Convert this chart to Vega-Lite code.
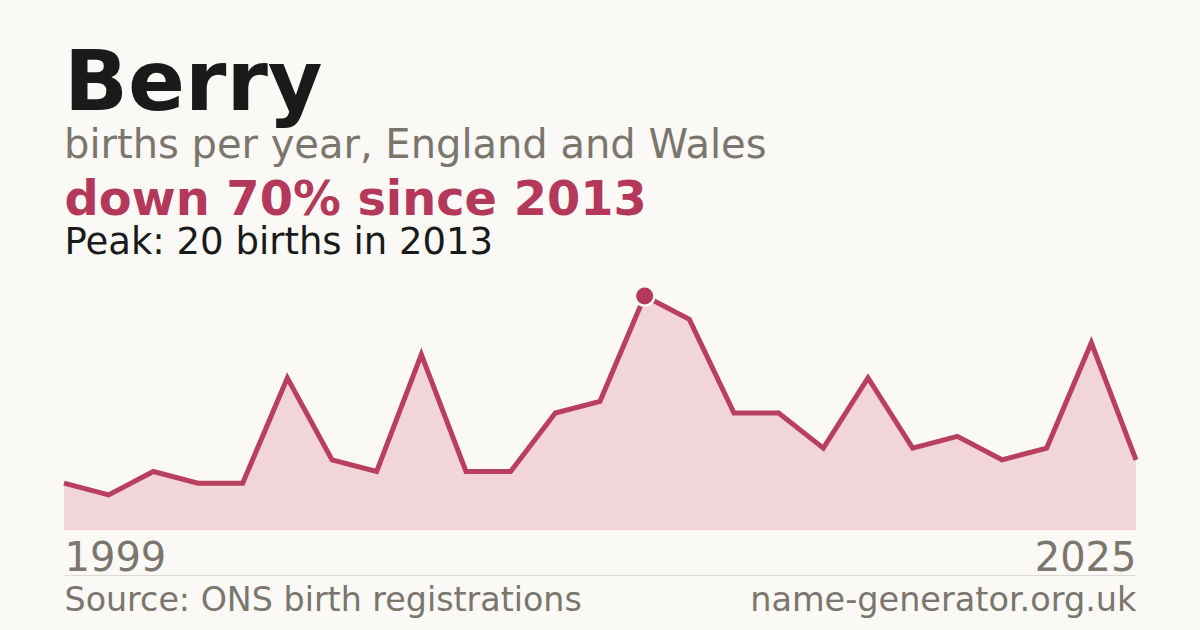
{
  "$schema": "https://vega.github.io/schema/vega-lite/v6.json",
  "width": 1072,
  "height": 234,
  "autosize": "none",
  "padding": {"left": 64, "top": 296, "right": 64, "bottom": 100},
  "background": "#faf9f5",
  "title": {
    "text": "Berry",
    "subtitle": "births per year, England and Wales",
    "anchor": "start",
    "frame": "group",
    "font": "DejaVu Sans",
    "fontSize": 84,
    "fontWeight": "bold",
    "color": "#1a1a1a",
    "subtitleFont": "DejaVu Sans",
    "subtitleFontSize": 40,
    "subtitleColor": "#7a756d",
    "subtitlePadding": -2,
    "offset": 9
  },
  "data": {
    "values": [
      {"year": 1999, "births": 4},
      {"year": 2000, "births": 3},
      {"year": 2001, "births": 5},
      {"year": 2002, "births": 4},
      {"year": 2004, "births": 4},
      {"year": 2005, "births": 13},
      {"year": 2006, "births": 6},
      {"year": 2007, "births": 5},
      {"year": 2008, "births": 15},
      {"year": 2009, "births": 5},
      {"year": 2010, "births": 5},
      {"year": 2011, "births": 10},
      {"year": 2012, "births": 11},
      {"year": 2013, "births": 20},
      {"year": 2014, "births": 18},
      {"year": 2015, "births": 10},
      {"year": 2016, "births": 10},
      {"year": 2017, "births": 7},
      {"year": 2018, "births": 13},
      {"year": 2019, "births": 7},
      {"year": 2021, "births": 8},
      {"year": 2022, "births": 6},
      {"year": 2023, "births": 7},
      {"year": 2024, "births": 16},
      {"year": 2025, "births": 6}
    ]
  },
  "encoding": {
    "x": {"field": "year", "type": "ordinal", "scale": {"type": "point", "padding": 0}},
    "y": {"field": "births", "type": "quantitative", "scale": {"domain": [0, 20]}}
  },
  "layer": [
    {
      "mark": {"type": "area", "color": "#f1d5db", "interpolate": "linear"},
      "encoding": {
        "x": {
          "field": "year", "type": "ordinal", "scale": {"type": "point", "padding": 0},
          "axis": {
            "orient": "bottom",
            "values": [1999, 2025],
            "domain": false, "ticks": false, "tickSize": 0, "grid": false,
            "labelAngle": 0,
            "labelFont": "DejaVu Sans", "labelFontSize": 40, "labelColor": "#7a756d",
            "labelBaseline": "alphabetic", "labelPadding": 40,
            "labelAlign": {"expr": "datum.value == 1999 ? 'left' : 'right'"},
            "labelOverlap": false, "labelBound": false,
            "title": "Source: ONS birth registrations",
            "titleFont": "DejaVu Sans", "titleFontSize": 33.3, "titleFontWeight": "normal",
            "titleColor": "#7a756d",
            "titleX": 0, "titleY": 80, "titleAlign": "left", "titleBaseline": "alphabetic"
          }
        },
        "y": {
          "field": "births", "type": "quantitative", "scale": {"domain": [0, 20]},
          "axis": {
            "orient": "left",
            "labels": false, "ticks": false, "domain": false, "grid": false,
            "title": "Peak: 20 births in 2013",
            "titleFont": "DejaVu Sans", "titleFontSize": 37, "titleFontWeight": "normal",
            "titleColor": "#1a1a1a", "titleAngle": 0,
            "titleX": 0, "titleY": -43, "titleAlign": "left", "titleBaseline": "alphabetic"
          }
        }
      }
    },
    {
      "mark": {"type": "line", "color": "#b8405e", "strokeWidth": 5, "strokeJoin": "miter"},
      "encoding": {
        "x": {
          "field": "year", "type": "ordinal", "scale": {"type": "point", "padding": 0},
          "axis": {
            "orient": "bottom", "offset": 45,
            "domain": true, "domainColor": "#dddad4", "domainWidth": 1,
            "labels": false, "ticks": false, "grid": false,
            "title": "name-generator.org.uk",
            "titleFont": "DejaVu Sans", "titleFontSize": 33.5, "titleFontWeight": "normal",
            "titleColor": "#7a756d",
            "titleX": 1072, "titleY": 35, "titleAlign": "right", "titleBaseline": "alphabetic"
          }
        },
        "y": {
          "field": "births", "type": "quantitative", "scale": {"domain": [0, 20]},
          "axis": {
            "orient": "right",
            "labels": false, "ticks": false, "domain": false, "grid": false,
            "title": "down 70% since 2013",
            "titleFont": "DejaVu Sans", "titleFontSize": 47.8, "titleFontWeight": "bold",
            "titleColor": "#b3385a", "titleAngle": 0,
            "titleX": -1072, "titleY": -82, "titleAlign": "left", "titleBaseline": "alphabetic"
          }
        }
      }
    },
    {
      "transform": [
        {"joinaggregate": [{"op": "max", "field": "births", "as": "peak"}]},
        {"filter": "datum.births == datum.peak"}
      ],
      "mark": {"type": "circle", "size": 380, "color": "#b3385a", "stroke": "#faf9f5", "strokeWidth": 2.5, "opacity": 1, "strokeOpacity": 1},
      "encoding": {
        "x": {"field": "year", "type": "ordinal", "scale": {"type": "point", "padding": 0}, "axis": null},
        "y": {"field": "births", "type": "quantitative", "scale": {"domain": [0, 20]}, "axis": null}
      }
    }
  ],
  "resolve": {"axis": {"x": "independent", "y": "independent"}},
  "config": {"view": {"stroke": null}}
}
